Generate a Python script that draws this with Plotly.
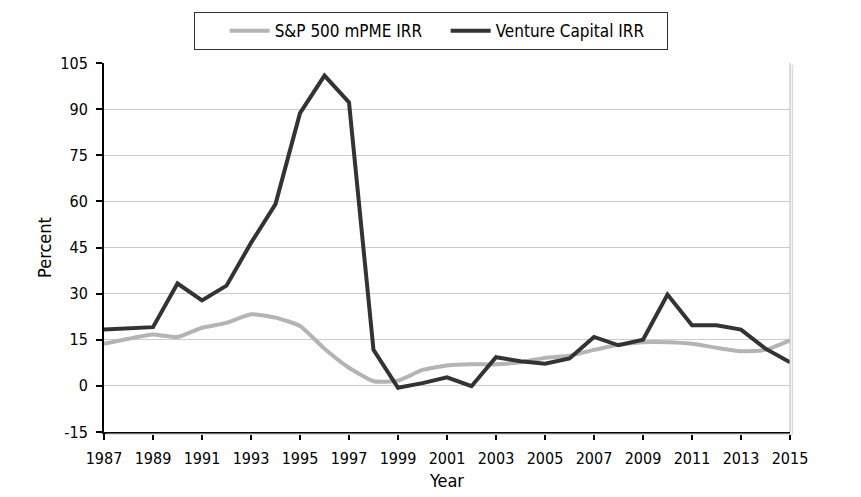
import plotly.graph_objects as go

years = list(range(1987, 2016))
sp500_mpme_irr = [13.7, 15.3, 16.7, 15.9, 18.9, 20.5, 23.3, 22.2, 19.5, 12.1, 5.9, 1.5,
                  1.7, 5.2, 6.6, 7.0, 7.0, 7.7, 9.1, 9.8, 11.7, 13.4, 14.2, 14.2,
                  13.7, 12.4, 11.3, 11.7, 14.8]
venture_capital_irr = [18.3, 18.8, 19.1, 33.3, 27.8, 32.6, 46.5, 59.1, 88.7, 100.9, 92.2, 11.7,
                       -0.6, 0.9, 2.8, -0.1, 9.3, 8.0, 7.2, 8.9, 15.9, 13.2, 15.0, 29.7,
                       19.7, 19.7, 18.3, 12.1, 7.7]
x_tick_labels = [str(y) for y in range(1987, 2016, 2)]
y_ticks = list(range(-15, 106, 15))
y_tick_labels = [str(v) for v in y_ticks]

FONT = "DejaVu Sans Condensed, Liberation Sans Narrow, sans-serif"

fig = go.Figure()
fig.add_trace(go.Scatter(x=years, y=sp500_mpme_irr, mode="lines", name="S&P 500 mPME IRR",
                         line=dict(color="#b4b4b4", width=4, shape="spline", smoothing=0.5)))
fig.add_trace(go.Scatter(x=years, y=venture_capital_irr, mode="lines", name="Venture Capital IRR",
                         line=dict(color="#333333", width=4)))

# plot-area border/shadow on right and bottom
fig.add_shape(type="line", xref="paper", yref="paper", x0=1.0035, x1=1.0035, y0=-0.006, y1=0.995,
              line=dict(color="#dddddd", width=1.5))
fig.add_shape(type="line", xref="paper", yref="paper", x0=1, x1=1, y0=0, y1=1,
              line=dict(color="#b8b8b8", width=1))
fig.add_shape(type="line", xref="paper", yref="paper", x0=0.004, x1=1.0035, y0=-0.006, y1=-0.006,
              line=dict(color="#dddddd", width=1.5))

fig.update_layout(
    width=861, height=497,
    margin=dict(l=96, r=79, t=55, b=73, autoexpand=False),
    paper_bgcolor="white", plot_bgcolor="white",
    font=dict(family=FONT, size=15, color="black"),
    showlegend=True,
    legend=dict(orientation="h", x=0.477, xanchor="center", y=1.138, yanchor="top",
                bordercolor="#333333", borderwidth=1, bgcolor="white",
                font=dict(family=FONT, size=17, color="black"),
                title=dict(text="\u00a0\u00a0\u00a0\u00a0", side="left", font=dict(size=17)),
                entrywidth=166, itemwidth=40, tracegroupgap=0),
    xaxis=dict(range=[1987, 2015], tickvals=list(range(1987, 2016, 2)), ticktext=x_tick_labels,
               showgrid=False, zeroline=False, showline=True, linecolor="black", linewidth=2,
               ticks="outside", ticklen=6, tickcolor="black", tickwidth=2, ticklabelstandoff=5,
               title=dict(text="Year", standoff=7), tickfont=dict(size=16)),
    yaxis=dict(range=[-15, 105], tickvals=y_ticks, ticktext=y_tick_labels,
               showgrid=True, gridcolor="#cccccc", gridwidth=1,
               zeroline=False, showline=True, linecolor="black", linewidth=2,
               ticks="outside", ticklen=6, tickcolor="black", tickwidth=2, ticklabelstandoff=5,
               title=dict(text="Percent", standoff=4), tickfont=dict(size=16)),
)

fig.write_html("out.html")
